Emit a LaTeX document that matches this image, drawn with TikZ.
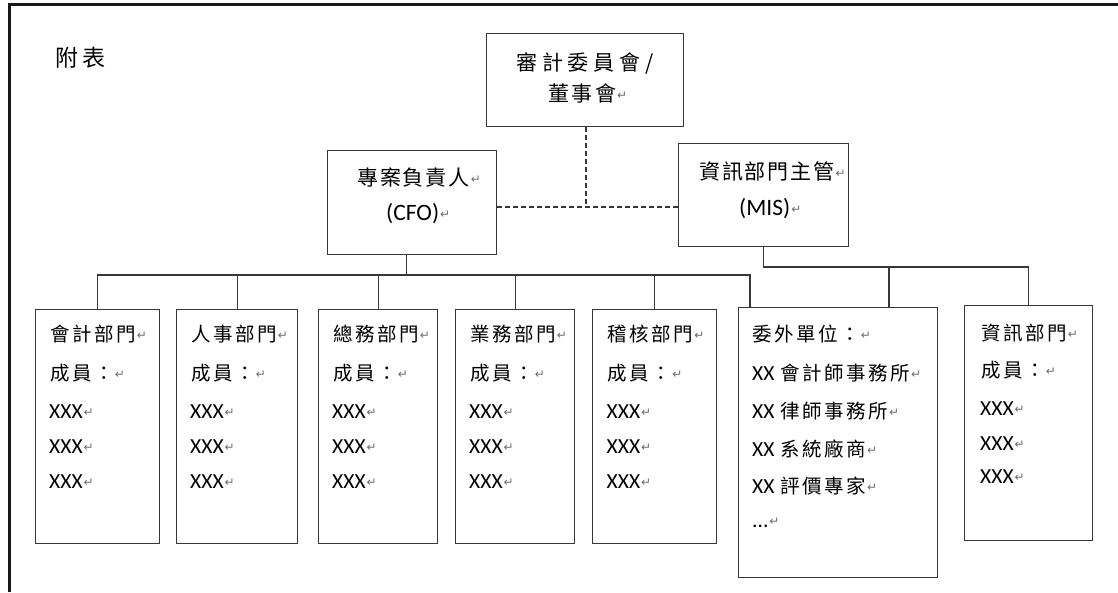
\documentclass[tikz,border=0pt]{standalone}
\usepackage{fontspec}
\usetikzlibrary{calc}
\newfontfamily\cjkS[LetterSpace=13]{Noto Sans CJK TC}
\newfontfamily\cjkT[LetterSpace=23]{Noto Sans CJK TC}
\newfontfamily\cjkU[LetterSpace=12]{Noto Sans CJK TC}
\newfontfamily\cjkH[LetterSpace=9]{Noto Sans CJK TC}
\newfontfamily\cjkF[LetterSpace=17]{Noto Sans CJK TC}
\newfontfamily\latC{Carlito}
\newfontfamily\dvS{DejaVu Sans}
\definecolor{linec}{RGB}{55,55,55}
\definecolor{pmc}{RGB}{110,110,110}
\newcommand\pmk{\hspace{1pt}\raisebox{2pt}{\dvS\fontsize{12}{12}\selectfont\textcolor{pmc}{↵}}}
\newcommand\fbot{\cjkS\fontsize{19.5}{19.5}\selectfont}
\newcommand\lbot{\latC\fontsize{21.5}{21.5}\selectfont}
\newcommand\fhead{\cjkH\fontsize{21}{21}\selectfont}
\newcommand\lhead{\latC\fontsize{23.5}{23.5}\selectfont}
\newcommand\ftopA{\cjkT\fontsize{21}{21}\selectfont}
\newcommand\ftopB{\cjkU\fontsize{21}{21}\selectfont}
\newcommand\ffb{\cjkF\fontsize{23}{23}\selectfont}
\begin{document}
\begin{tikzpicture}[x=1pt,y=-1pt,
  box/.style={draw=linec,line width=1.4pt,rectangle,inner sep=0pt,anchor=north west},
  conn/.style={draw=linec,line width=1.3pt},
  dashconn/.style={draw=linec,line width=1.2pt,dash pattern=on 5pt off 3pt},
  txt/.style={anchor=base west,inner sep=0pt}]
\useasboundingbox (0,0) rectangle (1118,592);
\fill[white] (0,0) rectangle (1118,592);
\draw[line width=2.6pt,black!90] (9.6,592) -- (9.6,4.6) -- (1118,4.6);

\node[txt] (fb) at (55,66) {\ffb 附表};

% upper boxes
\node[box,minimum width=197pt,minimum height=93pt] (top) at (486,33) {};
\node[box,minimum width=169pt,minimum height=104pt] (cfo) at (327,150) {};
\node[box,minimum width=170pt,minimum height=103pt] (mis) at (678,143) {};

\node[txt] (top-1) at (516,70) {\ftopA 審計委員會/};
\node[txt] (top-2) at (548,101.5) {\ftopB 董事會\pmk};
\node[txt] (cfo-1) at (357,185.5) {\fhead 專案負責人\pmk};
\node[txt] (cfo-2) at (386,220.5) {\lhead (CFO)\pmk};
\node[txt] (mis-1) at (699,179) {\fhead 資訊部門主管\pmk};
\node[txt] (mis-2) at (739,215) {\lhead (MIS)\pmk};

% lower boxes
\node[box,minimum width=124pt,minimum height=234pt] (b1) at (35,309) {};
\node[box,minimum width=121pt,minimum height=234pt] (b2) at (176,309) {};
\node[box,minimum width=119pt,minimum height=234pt] (b3) at (318,309) {};
\node[box,minimum width=119pt,minimum height=234pt] (b4) at (455,309) {};
\node[box,minimum width=124pt,minimum height=234pt] (b5) at (592,309) {};
\node[box,minimum width=199pt,minimum height=270pt] (b6) at (738,307) {};
\node[box,minimum width=128pt,minimum height=235pt] (b7) at (964,305) {};

\foreach \n/\x/\t in {b1/50/會計部門,b2/191/人事部門,b3/333/總務部門,b4/470/業務部門,b5/607.5/稽核部門}{
  \node[txt] (\n-1) at (\x,341) {\fbot \t\pmk};
  \node[txt] (\n-2) at (\x,380) {\fbot 成員：\pmk};
  \node[txt] (\n-3) at (\x-1,418) {\lbot XXX\pmk};
  \node[txt] (\n-4) at (\x-1,453) {\lbot XXX\pmk};
  \node[txt] (\n-5) at (\x-1,488) {\lbot XXX\pmk};
}

\node[txt] (b6-1) at (752,341) {\fbot 委外單位：\pmk};
\node[txt] (b6-2) at (752,380) {{\lbot XX}\hspace{6pt}{\fbot 會計師事務所}\pmk};
\node[txt] (b6-3) at (752,418) {{\lbot XX}\hspace{6pt}{\fbot 律師事務所}\pmk};
\node[txt] (b6-4) at (752,456) {{\lbot XX}\hspace{6pt}{\fbot 系統廠商}\pmk};
\node[txt] (b6-5) at (752,493) {{\lbot XX}\hspace{6pt}{\fbot 評價專家}\pmk};
\node[txt] (b6-6) at (752,527) {\lbot ...\pmk};

\node[txt] (b7-1) at (981,340) {\fbot 資訊部門\pmk};
\node[txt] (b7-2) at (981,377) {\fbot 成員：\pmk};
\node[txt] (b7-3) at (980,415) {\lbot XXX\pmk};
\node[txt] (b7-4) at (980,450) {\lbot XXX\pmk};
\node[txt] (b7-5) at (980,483) {\lbot XXX\pmk};

% dashed links
\coordinate (j) at (586,207);
\draw[dashconn] (top.south -| j) -- (j);
\draw[dashconn] (cfo.east |- j) -- (mis.west |- j);

% CFO tree
\coordinate (bus) at (0,275);
\coordinate (cfoDrop) at ($(cfo.south)+(-5.5,0)$);
\coordinate (b6L) at ($(b6.north west)+(12,0)$);
\draw[conn] (cfoDrop) -- (cfoDrop |- bus);
\draw[conn] (b1.north) -- (b1.north |- bus) -- (b6L |- bus) -- (b6L);
\foreach \b in {b2,b3,b4,b5} \draw[conn] (\b.north) -- (\b.north |- bus);

% MIS tree
\coordinate (bus2) at (0,267);
\coordinate (b6R) at ($(b6.north east)+(-49.5,0)$);
\draw[conn] (mis.south) -- (mis.south |- bus2) -| (b7.north);
\draw[conn] (b6R |- bus2) -- (b6R);
\end{tikzpicture}
\end{document}
